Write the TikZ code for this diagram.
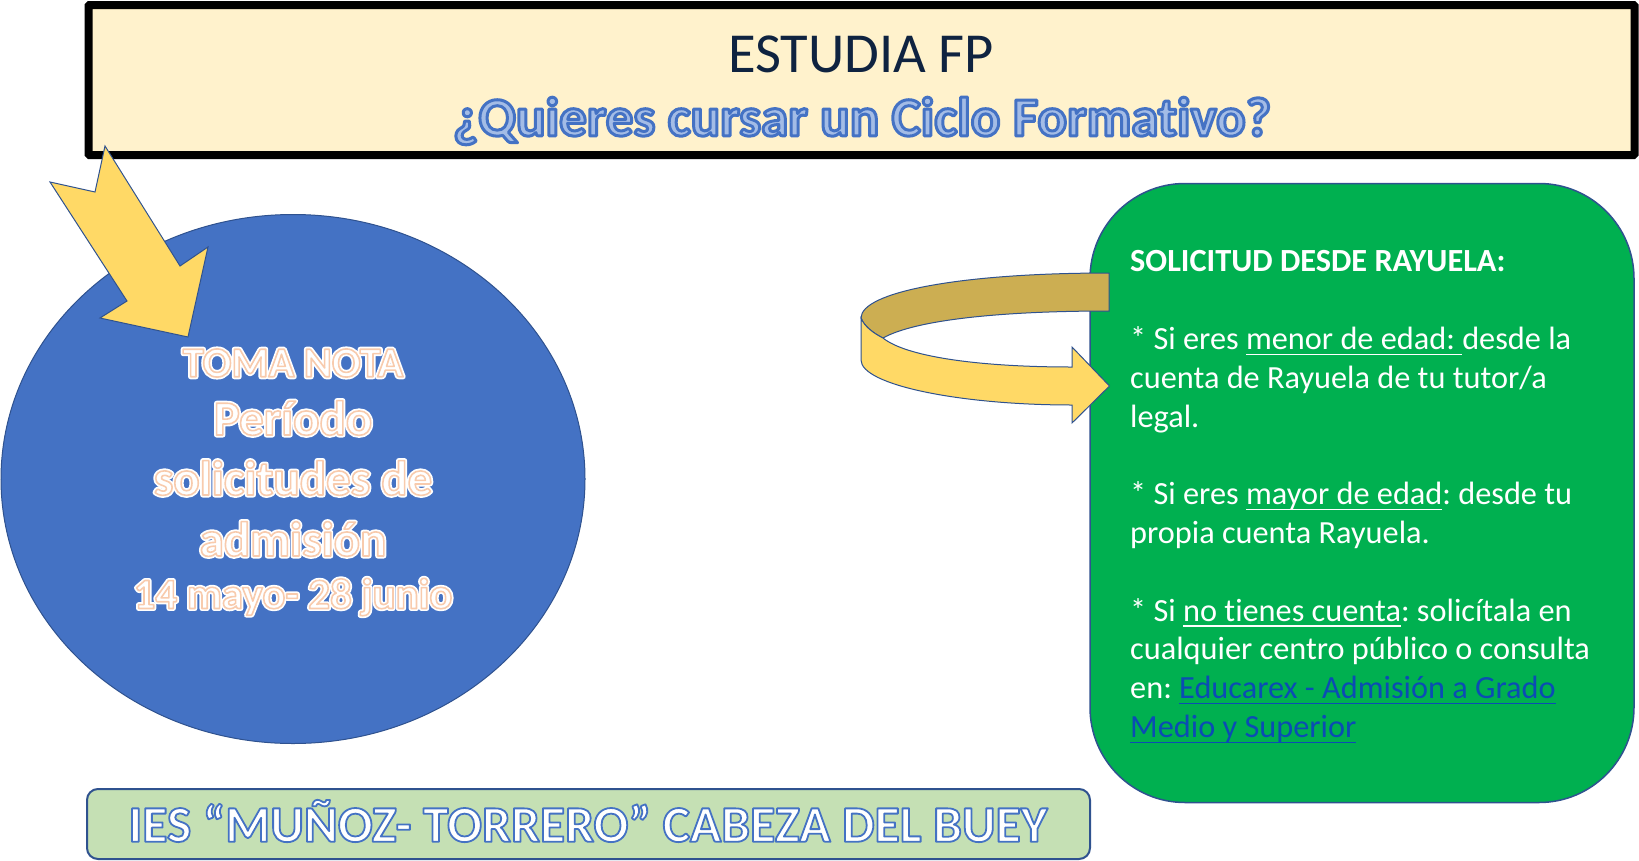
\documentclass[tikz,border=0pt]{standalone}
\usepackage{fontspec}
\setmainfont[Ligatures=NoCommon]{Carlito}
\usetikzlibrary{shapes.geometric}
\definecolor{cream}{HTML}{FFF2CC}
\definecolor{navytext}{HTML}{0F2340}
\definecolor{bluefill}{HTML}{4472C4}
\definecolor{blueline}{HTML}{2F528F}
\definecolor{paleblue}{HTML}{A3BCE6}
\definecolor{arrowfill}{HTML}{FFD966}
\definecolor{arrowdark}{HTML}{CCAE52}
\definecolor{greenfill}{HTML}{00B050}
\definecolor{palegreen}{HTML}{C5E0B4}
\definecolor{linkblue}{HTML}{0B4CB4}
\frenchspacing
\newsavebox{\ulinebox}
\newcommand{\ruled}[1]{\sbox{\ulinebox}{#1}\rlap{\rule[-5.5pt]{\wd\ulinebox}{1.4pt}}\usebox{\ulinebox}}
% #1 stroke colour as rgb numbers, #2 stroke width
\newcommand{\strokedtext}[3]{\special{pdf:code q 2 Tr #2 w 1 j #1 RG}#3\special{pdf:code Q}}
\newcommand{\peachtext}[1]{\rlap{\strokedtext{1 1 1}{5}{#1}}\strokedtext{0.973 0.796 0.678}{1.6}{#1}}
\newcommand{\bluetext}[2][3]{\strokedtext{0.267 0.447 0.769}{#1}{#2}}
\begin{document}
\begin{tikzpicture}[x=1pt, y=-1pt,
    arrowshape/.style={draw=blueline, line width=1pt, fill=arrowfill, line join=miter},
    circletext/.style={font=\bfseries\fontsize{#1}{#1}\selectfont, text=white, inner sep=0}]
    \useasboundingbox (0,0) rectangle (1639,860);
    % title
    \node[draw=black, line width=8pt, fill=cream, rounded corners=1pt, minimum width=1546pt, minimum height=150pt, inner sep=0] (titlebox) at (861.5,80) {};
    \node[text=navytext, font=\fontsize{56.5}{56.5}\selectfont, inner sep=0] (titleone) at (861,54) {ESTUDIA FP};
    \node[text=paleblue, font=\bfseries\fontsize{55}{55}\selectfont, inner sep=0] (titletwo) at (862,121) {\bluetext{¿Quieres cursar un Ciclo Formativo?}};
    % left
    \node[draw=blueline, line width=1pt, fill=bluefill, ellipse, minimum width=584pt, minimum height=529pt, inner sep=0] (period) at (293,479) {};
    \draw[arrowshape] (105,146) -- (180,266) -- (208,247) -- (188,337) -- (100,318) -- (127,301) -- (50,182) -- (95,192) -- cycle;
    \node[circletext=42.5] (toma) at (293,363) {\peachtext{TOMA NOTA}};
    \node[circletext=49] (periodo) at (293,418) {\peachtext{Período}};
    \node[circletext=49] (solicitudes) at (293,478) {\peachtext{solicitudes de}};
    \node[circletext=49] (admision) at (293,539) {\peachtext{admisión}};
    \node[circletext=43] (fechas) at (293,597) {\peachtext{14 mayo- 28 junio}};
    % right
    \node[draw=blueline, line width=1.5pt, fill=greenfill, rounded corners=95pt, minimum width=544pt, minimum height=619pt, inner sep=0] (rayuela) at (1362,493) {};
    \fill[arrowdark, draw=blueline, line width=1pt] (1109,273) .. controls (960,273) and (861,292) .. (861,318) .. controls (864,326) and (873,333) .. (883,338) .. controls (915,320) and (1000,311) .. (1109,311) -- cycle;
    \draw[arrowshape] (861,318) .. controls (864,326) and (873,333) .. (883,338) .. controls (905,356) and (975,367) .. (1072,367) -- (1072,347) -- (1109.5,386) -- (1072,423) -- (1072,405) .. controls (960,405) and (861,385) .. (861,360) -- cycle;
    \node[anchor=north west, align=left, text=white, inner sep=0, font=\fontsize{32.3}{38.8}\selectfont] (pasos) at (1130,250.5) {\textbf{SOLICITUD DESDE RAYUELA:}\\[38.8pt]
        * Si eres \ruled{menor de edad: }desde la\\
        cuenta de Rayuela de tu tutor/a\\
        legal.\\[38.8pt]
        * Si eres \ruled{mayor de edad}: desde tu\\
        propia cuenta Rayuela.\\[38.8pt]
        * Si \ruled{no tienes cuenta}: solicítala en\\
        cualquier centro público o consulta\\
        en: \textcolor{linkblue}{\ruled{Educarex - Admisión a Grado}}\\
        \textcolor{linkblue}{\ruled{Medio y Superior}}};
    % bottom
    \node[draw=blueline, line width=2pt, fill=palegreen, rounded corners=11pt, minimum width=1003pt, minimum height=70pt, inner sep=0] (centro) at (588.5,824) {};
    \node[text=white, font=\bfseries\fontsize{51.5}{51.5}\selectfont, inner sep=0] (centrotext) at (588,821) {\bluetext[1.8]{IES “MUÑOZ- TORRERO” CABEZA DEL BUEY}};
\end{tikzpicture}
\end{document}
